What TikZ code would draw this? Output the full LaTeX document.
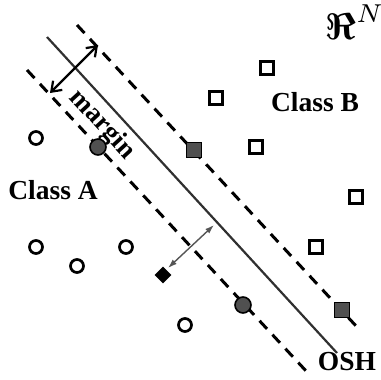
\documentclass[tikz,border=0pt]{standalone}
\usepackage{amsmath}
\usepackage{fontspec}
\setmainfont{Liberation Serif}
\usetikzlibrary{arrows.meta,shapes.geometric}
\definecolor{fillgray}{HTML}{505050}
\definecolor{linegray}{HTML}{303030}
\definecolor{arrgray}{HTML}{555555}
\tikzset{
  opencirc/.style={circle,draw=black,line width=2.7pt,fill=white,minimum size=13pt,inner sep=0pt},
  fillcirc/.style={circle,draw=black,line width=1.6pt,fill=fillgray,minimum size=16pt,inner sep=0pt},
  opensq/.style={rectangle,draw=black,line width=3pt,fill=white,minimum size=13.5pt,inner sep=0pt},
  fillsq/.style={rectangle,draw=black,line width=1.8pt,fill=fillgray,minimum size=15pt,inner sep=0pt},
  blackdia/.style={diamond,fill=black,minimum size=17pt,inner sep=0pt},
  hyper/.style={line width=3pt,dash pattern=on 11pt off 8pt},
  osh/.style={line width=2.2pt,draw=linegray},
  lbl/.style={font=\fontsize{27.5}{30}\selectfont\bfseries,inner sep=0pt},
}
\begin{document}
\begin{tikzpicture}[x=1pt,y=-1pt]
\useasboundingbox (0,0) rectangle (381,380);
% hyperplanes
\coordinate (s1) at (47,37);
\coordinate (s2) at (337,353);
\coordinate (u1) at (77,25);
\coordinate (u2) at (357,327);
\coordinate (l1) at (27,70);
\coordinate (l2) at (307,372);
\draw[osh] (s1) -- (s2);
\draw[hyper] (u1) -- (u2);
\draw[hyper] (l1) -- (l2);
% margin arrow
\coordinate (ma) at (50,93);
\coordinate (mb) at (98,45);
\draw[line width=2.2pt,{Straight Barb[length=9pt,width=13pt,line width=2.2pt]}-{Straight Barb[length=9pt,width=13pt,line width=2.2pt]}] (ma) -- (mb);
\node[lbl,rotate=-47.5,font=\fontsize{27}{29}\selectfont\bfseries] (margin) at (102,125) {margin};
% class A
\node[opencirc] (a1) at (36,138) {};
\node[opencirc] (a2) at (36,247) {};
\node[opencirc] (a3) at (77,266) {};
\node[opencirc] (a4) at (126,247) {};
\node[opencirc] (a5) at (185,325) {};
\node[fillcirc] (a6) at (98,147) {};
\node[fillcirc] (a7) at (243,305) {};
\node[blackdia] (d) at (163,275) {};
% class B
\node[opensq] (b1) at (267,68) {};
\node[opensq] (b2) at (216,98) {};
\node[opensq] (b3) at (256,147) {};
\node[opensq] (b4) at (356,197) {};
\node[opensq] (b5) at (316,247) {};
\node[fillsq] (b6) at (194,150) {};
\node[fillsq] (b7) at (342,310) {};
% distance arrow
\coordinate (dd) at (168,268);
\coordinate (dt) at (214,225);
\draw[arrgray,line width=1.4pt,{Latex[length=9pt,width=6pt]}-{Latex[length=9pt,width=6pt]}] (dd) -- (dt);
% labels
\node[lbl] (ca) at (53,190) {Class A};
\node[lbl] (cb) at (315,102) {Class B};
\node[lbl] (o) at (347,362) {OSH};
\node[inner sep=0pt,scale=3.7] (rn) at (355,22) {$\boldsymbol{\Re}^{N}$};
\end{tikzpicture}
\end{document}
